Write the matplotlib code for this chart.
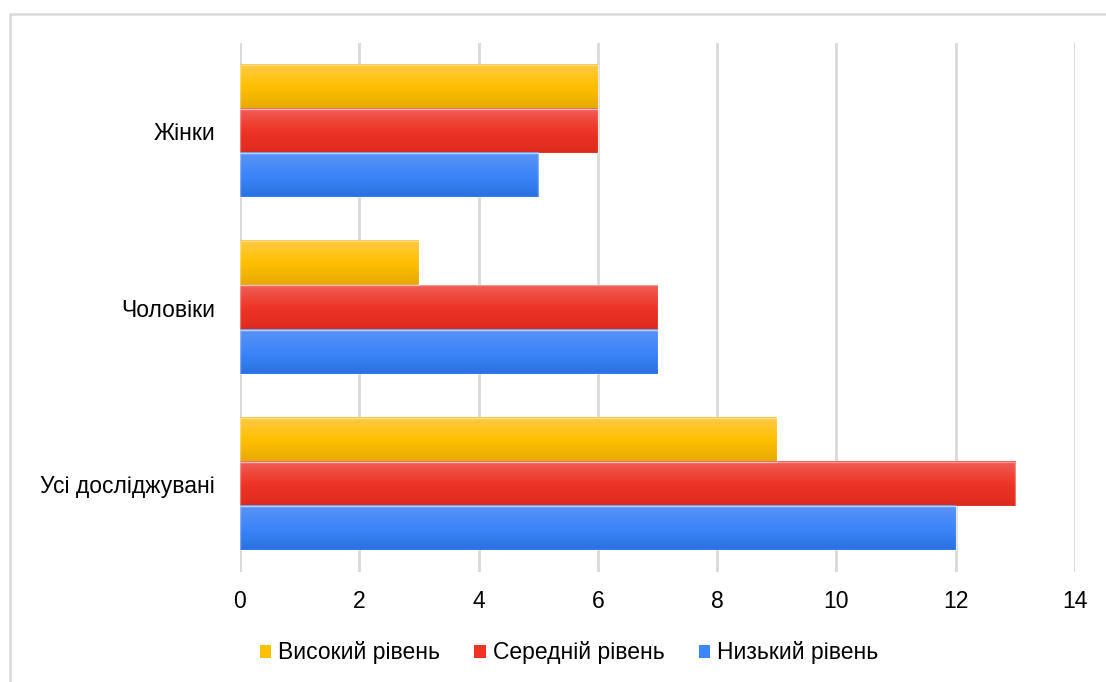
import numpy as np
import matplotlib
matplotlib.use("Agg")
import matplotlib.pyplot as plt
from matplotlib.colors import LinearSegmentedColormap
from matplotlib.patches import Rectangle, Patch

plt.rcParams['font.family'] = ['Liberation Sans', 'DejaVu Sans']

categories = ["Усі досліджувані", "Чоловіки", "Жінки"]
series_names = ["Високий рівень", "Середній рівень", "Низький рівень"]
high = [9, 3, 6]
medium = [13, 7, 6]
low = [12, 7, 5]
x_ticks = [0, 2, 4, 6, 8, 10, 12, 14]

# top / middle / bottom shades for each series' gradient fill
shades = [
    ("#FFCA45", "#FFC000", "#E5A900"),
    ("#F15E57", "#EE3426", "#DD2A1C"),
    ("#5A93F6", "#3D86F9", "#2A72E3"),
]
solid = ["#FFC000", "#EE3426", "#3D86F9"]

W, H = 1106, 682
FS = 16.5
fig = plt.figure(figsize=(W / 100, H / 100), dpi=100)
ax = fig.add_axes([240 / W, 1 - 572 / H, (1075 - 240) / W, (572 - 43) / H])

# outer chart frame
fig.patches.append(Rectangle((10 / W, -0.1), 1.2, 1 - 14 / H + 0.1,
                             transform=fig.transFigure, fill=False,
                             edgecolor="#d9d9d9", linewidth=1.8, zorder=0))

y = np.arange(len(categories))
h = 0.25
offsets = [h, 0, -h]
for vals, off, sh, col in zip([high, medium, low], offsets, shades, solid):
    bars = ax.barh(y + off, vals, height=h, color=col, edgecolor="none", zorder=2)
    cmap = LinearSegmentedColormap.from_list("g", [sh[2], sh[1], sh[0]])
    grad = np.linspace(0, 1, 64).reshape(-1, 1)
    for b in bars:
        x0, y0 = b.get_x(), b.get_y()
        ax.imshow(grad, cmap=cmap, aspect="auto", origin="lower",
                  extent=(x0, x0 + b.get_width(), y0, y0 + b.get_height()),
                  zorder=3, interpolation="bilinear")
        ax.add_patch(Rectangle((x0, y0), b.get_width(), b.get_height(),
                               fill=False, edgecolor=(1, 1, 1, 0.35),
                               linewidth=1.0, zorder=4))

ax.set_xlim(0, 14)
ax.set_ylim(-0.5, 2.5)
ax.set_xticks(x_ticks)
ax.set_xticklabels([str(t) for t in x_ticks], fontsize=FS)
ax.set_yticks(y)
ax.set_yticklabels(categories, fontsize=FS)
ax.tick_params(length=0)
ax.tick_params(axis="x", pad=13)
ax.tick_params(axis="y", pad=18)
for s in ax.spines.values():
    s.set_visible(False)
ax.grid(axis="x", color="#d9d9d9", linewidth=2, zorder=0)
ax.set_axisbelow(True)

handles = [Patch(facecolor=c) for c in solid]
fig.legend(handles, series_names, loc="center", bbox_to_anchor=(569 / W, 1 - 653 / H),
           ncol=3, frameon=False, fontsize=FS, handlelength=0.5, handleheight=0.5,
           handletextpad=0.3, columnspacing=1.5)

fig.savefig("out.png", dpi=100, facecolor="white")
